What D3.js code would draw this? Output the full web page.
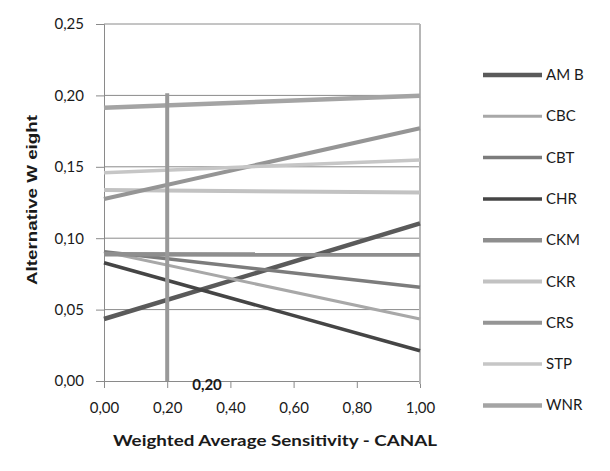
<!DOCTYPE html>
<html>
<head>
<meta charset="utf-8">
<script src="https://cdn.jsdelivr.net/npm/d3@7"></script>
<style>
  body { margin: 0; background: #fff; }
  text { font-family: Lato, "Open Sans", sans-serif; fill: #1a1a1a; }
</style>
</head>
<body>
<div id="chart"></div>
<script>
// alternatives, weight at sensitivity 0 and at 1
const names = ['AMB', 'CBC', 'CBT', 'CHR', 'CKM', 'CKR', 'CRS', 'STP', 'WNR'];
const atZero = [0.0434, 0.0906, 0.0906, 0.0828, 0.0887, 0.1338, 0.1275, 0.1459, 0.1914];
const atOne = [0.1104, 0.0434, 0.0656, 0.0212, 0.0885, 0.1320, 0.1770, 0.1548, 0.1998];
const colors = ['#5a5a5a', '#a8a8a8', '#7c7c7c', '#454545', '#8e8e8e', '#c2c2c2', '#959595', '#c6c6c6', '#a4a4a4'];
const widths = [4.5, 3, 3.5, 3.5, 4.5, 4, 4, 3.5, 4.5];
const xTicks = [0, 0.2, 0.4, 0.6, 0.8, 1.0];
const yTicks = [0, 0.05, 0.10, 0.15, 0.20, 0.25];
const currentValue = 0.20;

const width = 610, height = 471;
const svg = d3.select('#chart').append('svg').attr('width', width).attr('height', height);

const x = d3.scaleLinear().domain([0, 1]).range([104, 420]);
const y = d3.scaleLinear().domain([0, 0.25]).range([381, 24]);
const fmt = d => d3.format('.2f')(d).replace('.', ',');

// horizontal grid
svg.append('g').selectAll('line').data(yTicks.slice(1)).join('line')
  .attr('x1', x(0)).attr('x2', x(1))
  .attr('y1', d => y(d)).attr('y2', d => y(d))
  .attr('stroke', '#8a8a8a').attr('stroke-width', 1);

// y axis
const yAxis = svg.append('g').attr('transform', `translate(${x(0)},0)`)
  .call(d3.axisLeft(y).tickValues(yTicks).tickFormat(fmt).tickSize(8).tickPadding(12));
yAxis.select('.domain').attr('stroke', '#8a8a8a');
yAxis.selectAll('.tick line').attr('stroke', '#8a8a8a');
yAxis.selectAll('text').attr('font-size', 15).attr('fill', '#1a1a1a');

// x axis
const xAxis = svg.append('g').attr('transform', `translate(0,${y(0)})`)
  .call(d3.axisBottom(x).tickValues(xTicks).tickFormat(fmt).tickSize(7).tickPadding(14));
xAxis.select('.domain').attr('stroke', '#8a8a8a');
xAxis.selectAll('.tick line').attr('stroke', '#8a8a8a');
xAxis.selectAll('text').attr('font-size', 15).attr('fill', '#1a1a1a');

// right border line
svg.append('line')
  .attr('x1', x(1)).attr('x2', x(1)).attr('y1', y(0.25)).attr('y2', y(0) + 3)
  .attr('stroke', '#b6b6b6').attr('stroke-width', 2);

// series lines
const line = d3.line().x(d => x(d[0])).y(d => y(d[1]));
names.forEach((n, i) => {
  svg.append('path')
    .datum([[0, atZero[i]], [1, atOne[i]]])
    .attr('d', line)
    .attr('fill', 'none')
    .attr('stroke', colors[i])
    .attr('stroke-width', widths[i]);
});

// current value marker
svg.append('line')
  .attr('x1', x(currentValue)).attr('x2', x(currentValue))
  .attr('y1', y(0.2015)).attr('y2', y(0))
  .attr('stroke', '#999').attr('stroke-width', 4);
svg.append('text')
  .attr('x', x(currentValue) + 25).attr('y', y(0) + 9)
  .attr('font-size', 15).attr('font-weight', 'bold')
  .text(fmt(currentValue));

// axis titles
svg.append('text')
  .attr('x', 113).attr('y', 446)
  .attr('font-size', 16).attr('font-weight', 'bold')
  .attr('textLength', 324).attr('lengthAdjust', 'spacingAndGlyphs')
  .text('Weighted Average Sensitivity - CANAL');
svg.append('text')
  .attr('transform', 'translate(37,200) rotate(-90)')
  .attr('text-anchor', 'middle')
  .style('font-family', '"Liberation Sans", Arial, sans-serif')
  .attr('font-size', 15).attr('font-weight', 'bold')
  .attr('textLength', 170).attr('lengthAdjust', 'spacingAndGlyphs')
  .text('Alternative W eight');

// legend
const legend = svg.append('g').selectAll('g').data(names).join('g')
  .attr('transform', (d, i) => `translate(483,${75 + i * 41.3})`);
legend.append('line')
  .attr('x1', 0).attr('x2', 59)
  .attr('stroke', (d, i) => colors[i])
  .attr('stroke-width', (d, i) => widths[i]);
legend.append('text')
  .attr('x', 63).attr('y', 5)
  .attr('font-size', 15)
  .text(d => d === 'AMB' ? 'AM B' : d);
</script>
</body>
</html>
